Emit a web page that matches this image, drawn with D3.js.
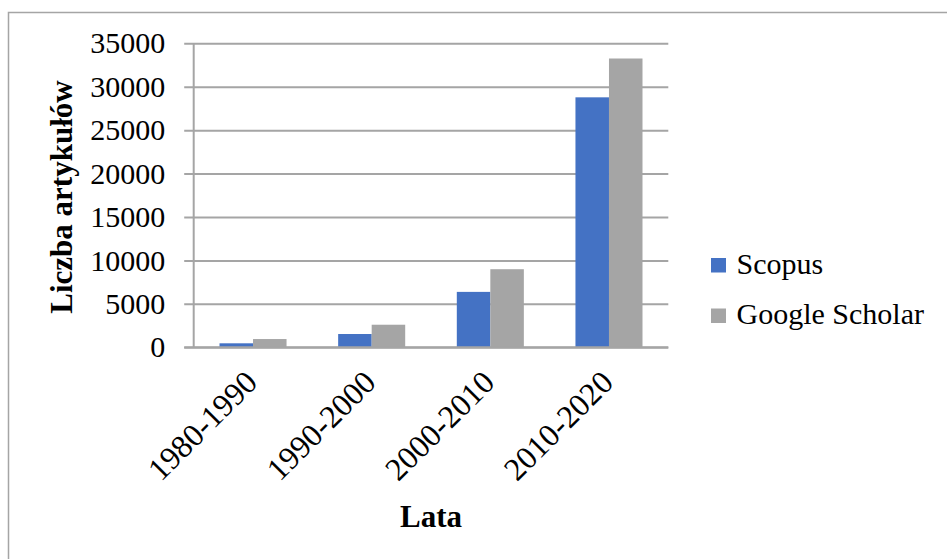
<!DOCTYPE html>
<html>
<head>
<meta charset="utf-8">
<script src="https://cdn.jsdelivr.net/npm/d3@7"></script>
<style>
  body { margin: 0; background: #fff; }
  text { font-family: "Liberation Serif", "Times New Roman", serif; fill: #000; }
</style>
</head>
<body>
<div id="chart"></div>
<script>
// data
var categories = ["1980-1990", "1990-2000", "2000-2010", "2010-2020"];
var seriesNames = ["Scopus", "Google Scholar"];
var scopus = [460, 1530, 6380, 28780];
var scholar = [950, 2600, 8990, 33250];
var yTicks = [0, 5000, 10000, 15000, 20000, 25000, 30000, 35000];

var w = 947, h = 559;
var colors = ["#4472C4", "#A5A5A5"];
var gridColor = "#a5a5a5";

var svg = d3.select("#chart").append("svg")
    .attr("width", w)
    .attr("height", h);

// outer frame (top and left edges visible)
svg.append("path")
    .attr("d", "M8.5," + h + "V12.5H" + w)
    .attr("fill", "none")
    .attr("stroke", gridColor)
    .attr("stroke-width", 1.5);

var plotLeft = 193.7, plotRight = 668.3, plotTop = 43.3, plotBottom = 347.3;

var x = d3.scaleBand()
    .domain(categories)
    .range([plotLeft, plotRight])
    .paddingInner(0.435)
    .paddingOuter(0.2175);

var x1 = d3.scaleBand()
    .domain(seriesNames)
    .range([0, x.bandwidth()]);

var y = d3.scaleLinear()
    .domain([0, 35000])
    .range([plotBottom, plotTop]);

// gridlines + y ticks
var yAxis = svg.append("g")
    .attr("transform", "translate(" + plotLeft + ",0)")
    .call(d3.axisLeft(y).tickValues(yTicks).tickSize(9.5).tickPadding(19).tickFormat(d3.format("d")));

yAxis.select(".domain").remove();
yAxis.selectAll(".tick line")
    .attr("stroke", gridColor)
    .attr("stroke-width", 2)
    .attr("x1", -9.5)
    .attr("x2", plotRight - plotLeft);
yAxis.selectAll(".tick text")
    .attr("font-size", "30px")
    .attr("font-family", "Liberation Serif, serif");

// vertical axis line
svg.append("line")
    .attr("x1", plotLeft).attr("x2", plotLeft)
    .attr("y1", plotTop).attr("y2", plotBottom)
    .attr("stroke", gridColor)
    .attr("stroke-width", 2);

// bars
var rows = categories.map(function(c, i) {
    return { cat: c, values: [scopus[i], scholar[i]] };
});

var groups = svg.append("g").selectAll("g")
    .data(rows)
    .enter()
    .append("g")
    .attr("transform", function(d) { return "translate(" + x(d.cat) + ",0)"; });

groups.selectAll("rect")
    .data(function(d) { return d.values.map(function(v, j) { return { name: seriesNames[j], v: v, j: j }; }); })
    .enter()
    .append("rect")
    .attr("x", function(d) { return x1(d.name); })
    .attr("y", function(d) { return y(d.v); })
    .attr("width", x1.bandwidth())
    .attr("height", function(d) { return plotBottom - y(d.v); })
    .attr("fill", function(d) { return colors[d.j]; });

// x axis baseline
svg.append("line")
    .attr("x1", plotLeft - 9.5).attr("x2", plotRight)
    .attr("y1", plotBottom).attr("y2", plotBottom)
    .attr("stroke", gridColor)
    .attr("stroke-width", 2);

// x labels rotated
var xAxis = svg.append("g")
    .attr("transform", "translate(0," + plotBottom + ")")
    .call(d3.axisBottom(x).tickSize(0).tickPadding(0));
xAxis.select(".domain").remove();
xAxis.selectAll(".tick text")
    .attr("font-size", "32px")
    .attr("font-family", "Liberation Serif, serif")
    .attr("text-anchor", "end")
    .attr("dy", null)
    .attr("y", 0)
    .attr("transform", "translate(6,37) rotate(-45)");

// axis titles
svg.append("text")
    .attr("x", (plotLeft + plotRight) / 2)
    .attr("y", 527)
    .attr("text-anchor", "middle")
    .attr("font-size", "31px")
    .attr("font-weight", "bold")
    .text("Lata");

svg.append("text")
    .attr("transform", "translate(72,197) rotate(-90)")
    .attr("text-anchor", "middle")
    .attr("font-size", "31px")
    .attr("font-weight", "bold")
    .text("Liczba artykułów");

// legend
var legend = svg.append("g").selectAll("g")
    .data(seriesNames)
    .enter()
    .append("g")
    .attr("transform", function(d, i) { return "translate(711," + (258 + i * 50.5) + ")"; });

legend.append("rect")
    .attr("width", 15)
    .attr("height", 14.5)
    .attr("fill", function(d, i) { return colors[i]; });

legend.append("text")
    .attr("x", 25.5)
    .attr("y", 15.5)
    .attr("font-size", "30px")
    .text(function(d) { return d; });
</script>
</body>
</html>
